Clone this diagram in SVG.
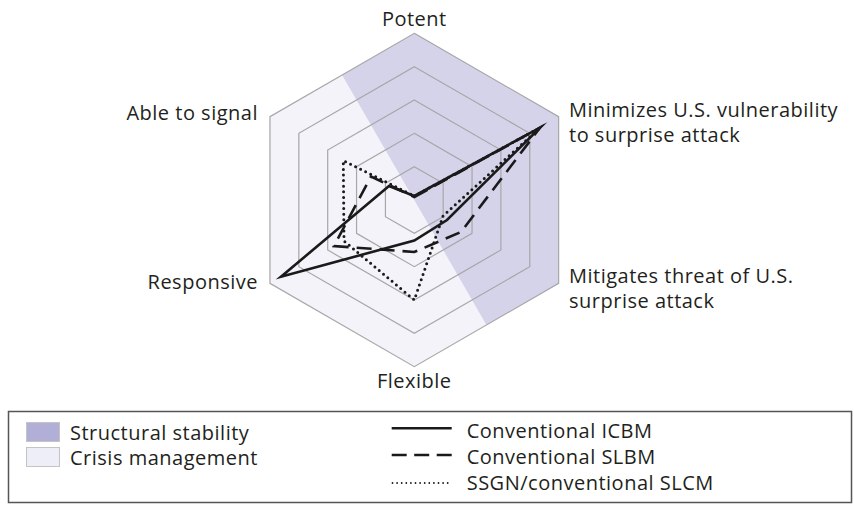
<svg xmlns="http://www.w3.org/2000/svg" width="854" height="506" viewBox="0 0 854 506">
  <style>
    text { font-family: "Open Sans", "Noto Sans", "Liberation Sans", sans-serif; font-size: 20px; letter-spacing: 0.5px; fill: #231f20; }
    .ring { fill: none; stroke: #a7a7a7; stroke-width: 1.2; }
    .series { fill: none; stroke: #1a1a1a; stroke-width: 2.6; stroke-linejoin: miter; stroke-miterlimit: 12; }
    .dash { stroke-dasharray: 15 8; }
    .dot { stroke-width: 3; stroke-linecap: round; stroke-dasharray: 0 5.6; stroke-linejoin: round; }
  </style>

  <!-- radar background: crisis-management area with the structural-stability wedge -->
  <g id="radar-grid">
    <polygon points="414.3,33.33 558.64,116.67 558.64,283.33 414.3,366.67 269.96,283.33 269.96,116.67" fill="#f3f3f9"/>
    <polygon points="342.1,75 414.3,33.33 558.64,116.67 558.64,283.33 486.5,325" fill="#d4d3ea"/>
    <polygon class="ring" points="414.3,33.33 558.64,116.67 558.64,283.33 414.3,366.67 269.96,283.33 269.96,116.67"/>
    <polygon class="ring" points="414.3,66.67 529.77,133.33 529.77,266.67 414.3,333.33 298.83,266.67 298.83,133.33"/>
    <polygon class="ring" points="414.3,100 500.9,150 500.9,250 414.3,300 327.7,250 327.7,150"/>
    <polygon class="ring" points="414.3,133.33 472.04,166.67 472.04,233.33 414.3,266.67 356.56,233.33 356.56,166.67"/>
    <polygon class="ring" points="414.3,166.67 443.17,183.33 443.17,216.67 414.3,233.33 385.43,216.67 385.43,183.33"/>
  </g>

  <!-- axis labels -->
  <g id="axis-potent"><text x="414.3" y="26" text-anchor="middle">Potent</text></g>
  <g id="axis-minimizes">
    <text x="569" y="117">Minimizes U.S. vulnerability</text>
    <text x="569" y="142">to surprise attack</text>
  </g>
  <g id="axis-mitigates">
    <text x="569" y="283">Mitigates threat of U.S.</text>
    <text x="569" y="308">surprise attack</text>
  </g>
  <g id="axis-flexible"><text x="414.3" y="388" text-anchor="middle">Flexible</text></g>
  <g id="axis-responsive"><text x="258" y="289" text-anchor="end">Responsive</text></g>
  <g id="axis-signal"><text x="258" y="120" text-anchor="end">Able to signal</text></g>

  <!-- data series -->
  <g id="series">
    <polygon id="ssgn-slcm" class="series dot" points="414.3,196 540,127.7 443,216 414.3,300 344,241 343.3,160.7"/>
    <polygon id="conventional-slbm" class="series dash" points="414.3,197 540,127.7 461,232 414.3,252 334,246 371,176.5"/>
    <polygon id="conventional-icbm" class="series" points="414.3,196 540,127.7 447,220 414.3,240.5 281,276.7 389,186"/>
  </g>

  <!-- legend -->
  <g id="legend">
    <rect x="8.5" y="411.5" width="843" height="91" fill="#ffffff" stroke="#555555" stroke-width="1.5"/>
    <rect x="26.5" y="422.5" width="33" height="19" fill="#b1afd8" stroke="#c4c4c4" stroke-width="1"/>
    <text x="70" y="440">Structural stability</text>
    <rect x="26.5" y="447.5" width="33" height="19" fill="#eeeef8" stroke="#c4c4c4" stroke-width="1"/>
    <text x="70" y="465">Crisis management</text>
    <line x1="391.7" y1="428.3" x2="451.7" y2="428.3" stroke="#1a1a1a" stroke-width="2.6"/>
    <text x="466.7" y="438">Conventional ICBM</text>
    <line x1="391.7" y1="455" x2="451.7" y2="455" stroke="#1a1a1a" stroke-width="2.6" stroke-dasharray="15 7.5"/>
    <text x="466.7" y="464">Conventional SLBM</text>
    <line x1="392.5" y1="483" x2="451.7" y2="483" stroke="#1a1a1a" stroke-width="1.8" stroke-linecap="round" stroke-dasharray="0 4.6"/>
    <text x="466.7" y="490">SSGN/conventional SLCM</text>
  </g>
</svg>
